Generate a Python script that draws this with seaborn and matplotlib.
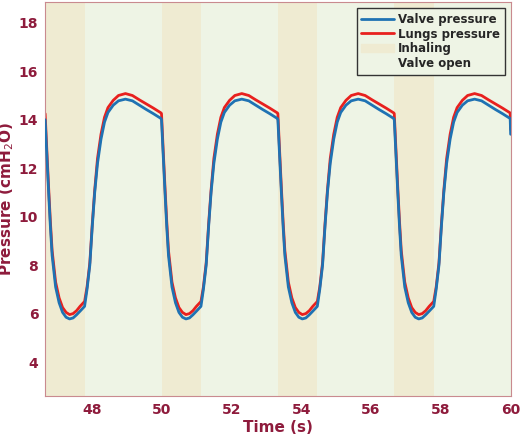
import numpy as np
import pandas as pd
import matplotlib
matplotlib.use("Agg")
import matplotlib.pyplot as plt
import seaborn as sns
from matplotlib.patches import Patch

# one breathing cycle (offset in s from valve closing)
cycle_offset = [0.0, 0.05, 0.1, 0.15, 0.2, 0.3, 0.4, 0.5, 0.6, 0.7, 0.8, 0.9, 1.0, 1.13,
                1.2, 1.28, 1.35, 1.42, 1.5, 1.6, 1.7, 1.8, 1.95, 2.1, 2.3, 2.5, 2.7,
                2.9, 3.1, 3.32]
valve_cycle = [14.0, 12.5, 11.0, 9.6, 8.4, 7.1, 6.45, 6.05, 5.85, 5.78, 5.82, 5.95, 6.1, 6.3,
               7.0, 8.0, 9.6, 11.0, 12.2, 13.2, 13.9, 14.3, 14.6, 14.78, 14.85, 14.78, 14.6,
               14.42, 14.25, 14.05]
lungs_cycle = [14.25, 12.7, 11.2, 9.8, 8.6, 7.3, 6.65, 6.25, 6.05, 5.96, 6.0, 6.12, 6.3, 6.5,
               7.1, 8.1, 9.7, 11.1, 12.4, 13.4, 14.1, 14.5, 14.8, 15.0, 15.08, 15.0, 14.82,
               14.65, 14.48, 14.28]
cycle_starts = [46.667, 50.0, 53.333, 56.667]
end_time = [60.0]
valve_end = [13.4]
lungs_end = [13.6]
inhale_len = 1.13
xlim = (46.67, 60.0)
ylim = (2.6, 18.85)
xticks = [48, 50, 52, 54, 56, 58, 60]
yticks = [4, 6, 8, 10, 12, 14, 16, 18]

t = np.concatenate([np.array(cycle_offset) + s for s in cycle_starts] + [np.array(end_time)])
valve = np.concatenate([valve_cycle] * len(cycle_starts) + [valve_end])
lungs = np.concatenate([lungs_cycle] * len(cycle_starts) + [lungs_end])
df = pd.DataFrame({"t": t, "valve": valve, "lungs": lungs})

dark = "#8e1b3c"
inhale_c = "#efebd2"
open_c = "#eef4e5"

sns.set_style("white")
plt.rcParams["font.family"] = ["DejaVu Sans"]
fig = plt.figure(figsize=(5.2, 4.4), dpi=100)
ax = fig.add_axes([0.087, 0.1, 0.895, 0.895])

ax.axvspan(xlim[0], xlim[1], color=open_c, lw=0, zorder=0)
for s in cycle_starts:
    ax.axvspan(s, s + inhale_len, color=inhale_c, lw=0, zorder=0)

sns.lineplot(data=df, x="t", y="lungs", color="#e8201e", lw=2, ax=ax, zorder=2)
sns.lineplot(data=df, x="t", y="valve", color="#1f72b3", lw=2, ax=ax, zorder=3)

ax.set_xlim(*xlim)
ax.set_ylim(*ylim)
ax.set_xticks(xticks)
ax.set_yticks(yticks)
ax.tick_params(direction="in", colors=dark, labelsize=10, length=4, pad=5)
for lab in ax.get_xticklabels() + ax.get_yticklabels():
    lab.set_fontweight("bold")
for sp in ax.spines.values():
    sp.set_color("#c98a8f")
ax.set_xlabel("Time (s)", color=dark, fontsize=11, fontweight="bold", labelpad=2)
ax.set_ylabel("Pressure (cmH$_2$O)", color=dark, fontsize=11, fontweight="bold", labelpad=2)

handles = [plt.Line2D([], [], color="#1f72b3", lw=2),
           plt.Line2D([], [], color="#e8201e", lw=2),
           Patch(color=inhale_c), Patch(color=open_c)]
leg = ax.legend(handles, ["Valve pressure", "Lungs pressure", "Inhaling", "Valve open"],
                loc="upper right", frameon=True, fancybox=False,
                prop={"weight": "bold", "size": 8.5}, borderaxespad=0.5,
                handlelength=2.8, handletextpad=0.3, labelspacing=0.15)
leg.get_frame().set_edgecolor("#333333")
leg.get_frame().set_facecolor(open_c)
leg.get_frame().set_alpha(1)

fig.savefig("out.png", dpi=100)
